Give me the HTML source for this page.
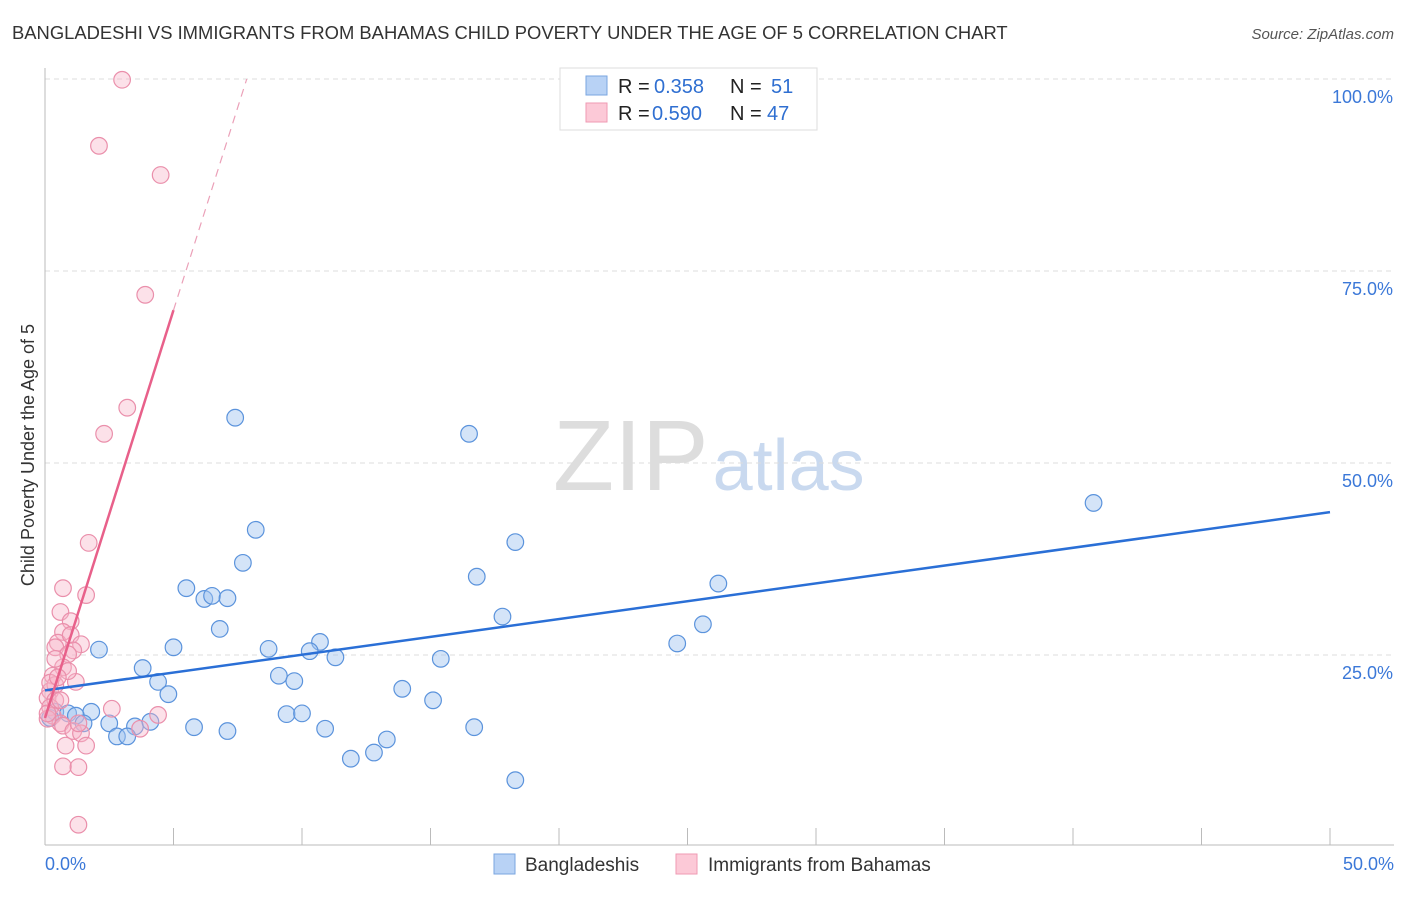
<!DOCTYPE html>
<html><head><meta charset="utf-8"><style>
body{margin:0;background:#fff;font-family:"Liberation Sans",sans-serif}
svg text{font-family:"Liberation Sans",sans-serif}
</style></head><body>
<svg id="c" width="1406" height="892" xmlns="http://www.w3.org/2000/svg">
<text x="12" y="39" font-size="18.4" fill="#333">BANGLADESHI VS IMMIGRANTS FROM BAHAMAS CHILD POVERTY UNDER THE AGE OF 5 CORRELATION CHART</text>
<text x="1394" y="39" font-size="15" fill="#555" text-anchor="end" font-style="italic">Source: ZipAtlas.com</text>
<text x="553" y="490" font-size="100" fill="#ddd" font-family="Liberation Serif">ZIP<tspan fill="#c9d9ef" font-family="Liberation Sans" font-size="72" dx="4">atlas</tspan></text>
<text transform="translate(34,455) rotate(-90)" font-size="18" fill="#333" text-anchor="middle">Child Poverty Under the Age of 5</text>
<g id="grid"></g><g id="pts"></g><g id="lines"></g>
<g>
<rect x="560" y="68" width="257" height="62" fill="#fff" stroke="#ddd"/>
<rect x="586" y="76" width="21" height="19" fill="#b8d2f5" stroke="#7aa6e0"/>
<rect x="586" y="103" width="21" height="19" fill="#fcc9d7" stroke="#ef9ab3"/>
<text x="618" y="93" font-size="20" fill="#222">R =</text>
<text x="654" y="93" font-size="20" fill="#2f6fd1">0.358</text>
<text x="730" y="93" font-size="20" fill="#222">N =</text>
<text x="771" y="93" font-size="20" fill="#2f6fd1">51</text>
<text x="618" y="120" font-size="20" fill="#222">R =</text>
<text x="652" y="120" font-size="20" fill="#2f6fd1">0.590</text>
<text x="730" y="120" font-size="20" fill="#222">N =</text>
<text x="767" y="120" font-size="20" fill="#2f6fd1">47</text>
</g>
<g>
<rect x="494" y="854" width="21" height="20" fill="#b8d2f5" stroke="#7aa6e0"/>
<text x="525" y="871" font-size="19" fill="#333">Bangladeshis</text>
<rect x="676" y="854" width="21" height="20" fill="#fcc9d7" stroke="#ef9ab3"/>
<text x="708" y="871" font-size="19" fill="#333">Immigrants from Bahamas</text>
</g>
</svg>
<script>
const yTicks=[25,50,75,100];
const yTickLabels=["25.0%","50.0%","75.0%","100.0%"];
const xTicks=[0,5,10,15,20,25,30,35,40,45,50];
const blueX=[7.4,16.5,40.8,8.2,18.3,7.7,16.8,26.2,5.5,6.2,6.5,7.1,17.8,6.8,25.6,24.6,10.7,10.3,2.1,5.0,8.7,11.3,15.4,3.8,4.4,9.1,9.7,13.9,4.8,15.1,9.4,10.0,0.4,0.9,1.8,1.2,1.5,2.5,3.5,4.1,5.8,7.1,10.9,16.7,2.8,3.2,13.3,12.8,11.9,18.3,0.2];
const blueY=[55.9,53.8,44.8,41.3,39.7,37.0,35.2,34.3,33.7,32.3,32.7,32.4,30.0,28.4,29.0,26.5,26.7,25.5,25.7,26.0,25.8,24.7,24.5,23.3,21.5,22.3,21.6,20.6,19.9,19.1,17.3,17.4,17.6,17.4,17.6,17.1,16.1,16.1,15.7,16.3,15.6,15.1,15.4,15.6,14.4,14.4,14.0,12.3,11.5,8.7,16.8];
const pinkX=[3.0,2.1,4.5,3.9,3.2,2.3,1.7,0.7,1.6,0.6,1.0,0.7,0.5,1.0,1.4,0.4,1.1,0.9,0.7,1.2,0.3,0.2,0.1,0.4,0.9,0.4,0.2,0.3,0.6,0.1,0.1,0.7,1.1,1.4,2.6,4.4,3.7,0.8,1.6,0.7,1.3,1.3,1.3,0.2,0.5,0.6,0.4];
const pinkY=[99.9,91.3,87.5,71.9,57.2,53.8,39.6,33.7,32.8,30.6,29.4,28.0,26.6,27.6,26.4,26.0,25.6,25.1,23.4,21.5,22.3,20.3,19.4,21.1,22.9,19.1,18.2,17.1,16.1,16.7,17.4,15.8,15.1,14.8,18.0,17.2,15.4,13.2,13.2,10.5,10.4,2.9,16.1,21.4,22.1,19.1,24.5];
const blueTrend=[[0,20.4],[50,43.6]];
const pinkSolid=[[0,16.8],[5.0,69.9]];
const pinkDash=[[5.0,69.9],[7.85,100]];
const X=v=>45+v/50*1285, Y=v=>847-v/100*768;
const NS="http://www.w3.org/2000/svg";
function mk(t,a,p){const e=document.createElementNS(NS,t);for(const k in a)e.setAttribute(k,a[k]);p.appendChild(e);return e;}
const g=document.getElementById('grid');
yTicks.forEach((t,i)=>{
 const l=mk('line',{x1:45,x2:1394,y1:Y(t),y2:Y(t),stroke:'#ddd','stroke-dasharray':'5,4'},g);
 
 
 const tx=mk('text',{x:1393,y:Y(t)+24,'font-size':18,fill:'#3b78d8','text-anchor':'end'},g);tx.textContent=yTickLabels[i];
 
 
});
const ax=mk('line',{x1:45,x2:45,y1:68,y2:845,stroke:'#bbb'},g);


const bx=mk('line',{x1:45,x2:1394,y1:845,y2:845,stroke:'#bbb'},g);


xTicks.forEach(t=>{const l=mk('line',{x1:X(t),x2:X(t),y1:828,y2:845,stroke:'#bbb'},g);
 
 });
[[0,'0.0%','start',45],[50,'50.0%','end',1394]].forEach(a=>{const t=mk('text',{x:a[3],y:870,'font-size':18,fill:'#3b78d8','text-anchor':a[2]},g);t.textContent=a[1];
 
 });
const P=document.getElementById('pts');
blueX.forEach((x,i)=>{const c=mk('circle',{cx:X(x),cy:Y(blueY[i]),r:8.3,fill:'rgba(160,195,240,0.45)',stroke:'#5b93dc','stroke-width':1.2},P);
 
 });
pinkX.forEach((x,i)=>{const c=mk('circle',{cx:X(x),cy:Y(pinkY[i]),r:8.3,fill:'rgba(248,180,200,0.4)',stroke:'#ea8fab','stroke-width':1.2},P);
 
 });
const L=document.getElementById('lines');
const bl=mk('line',{x1:X(blueTrend[0][0]),y1:Y(blueTrend[0][1]),x2:X(blueTrend[1][0]),y2:Y(blueTrend[1][1]),stroke:'#2a6fd6','stroke-width':2.5},L);


const pl=mk('line',{x1:X(pinkSolid[0][0]),y1:Y(pinkSolid[0][1]),x2:X(pinkSolid[1][0]),y2:Y(pinkSolid[1][1]),stroke:'#e8608a','stroke-width':2.5},L);


const pd=mk('line',{x1:X(pinkDash[0][0]),y1:Y(pinkDash[0][1]),x2:X(pinkDash[1][0]),y2:Y(pinkDash[1][1]),stroke:'#eba0b8','stroke-width':1.2,'stroke-dasharray':'8,6'},L);


</script>
</body></html>
